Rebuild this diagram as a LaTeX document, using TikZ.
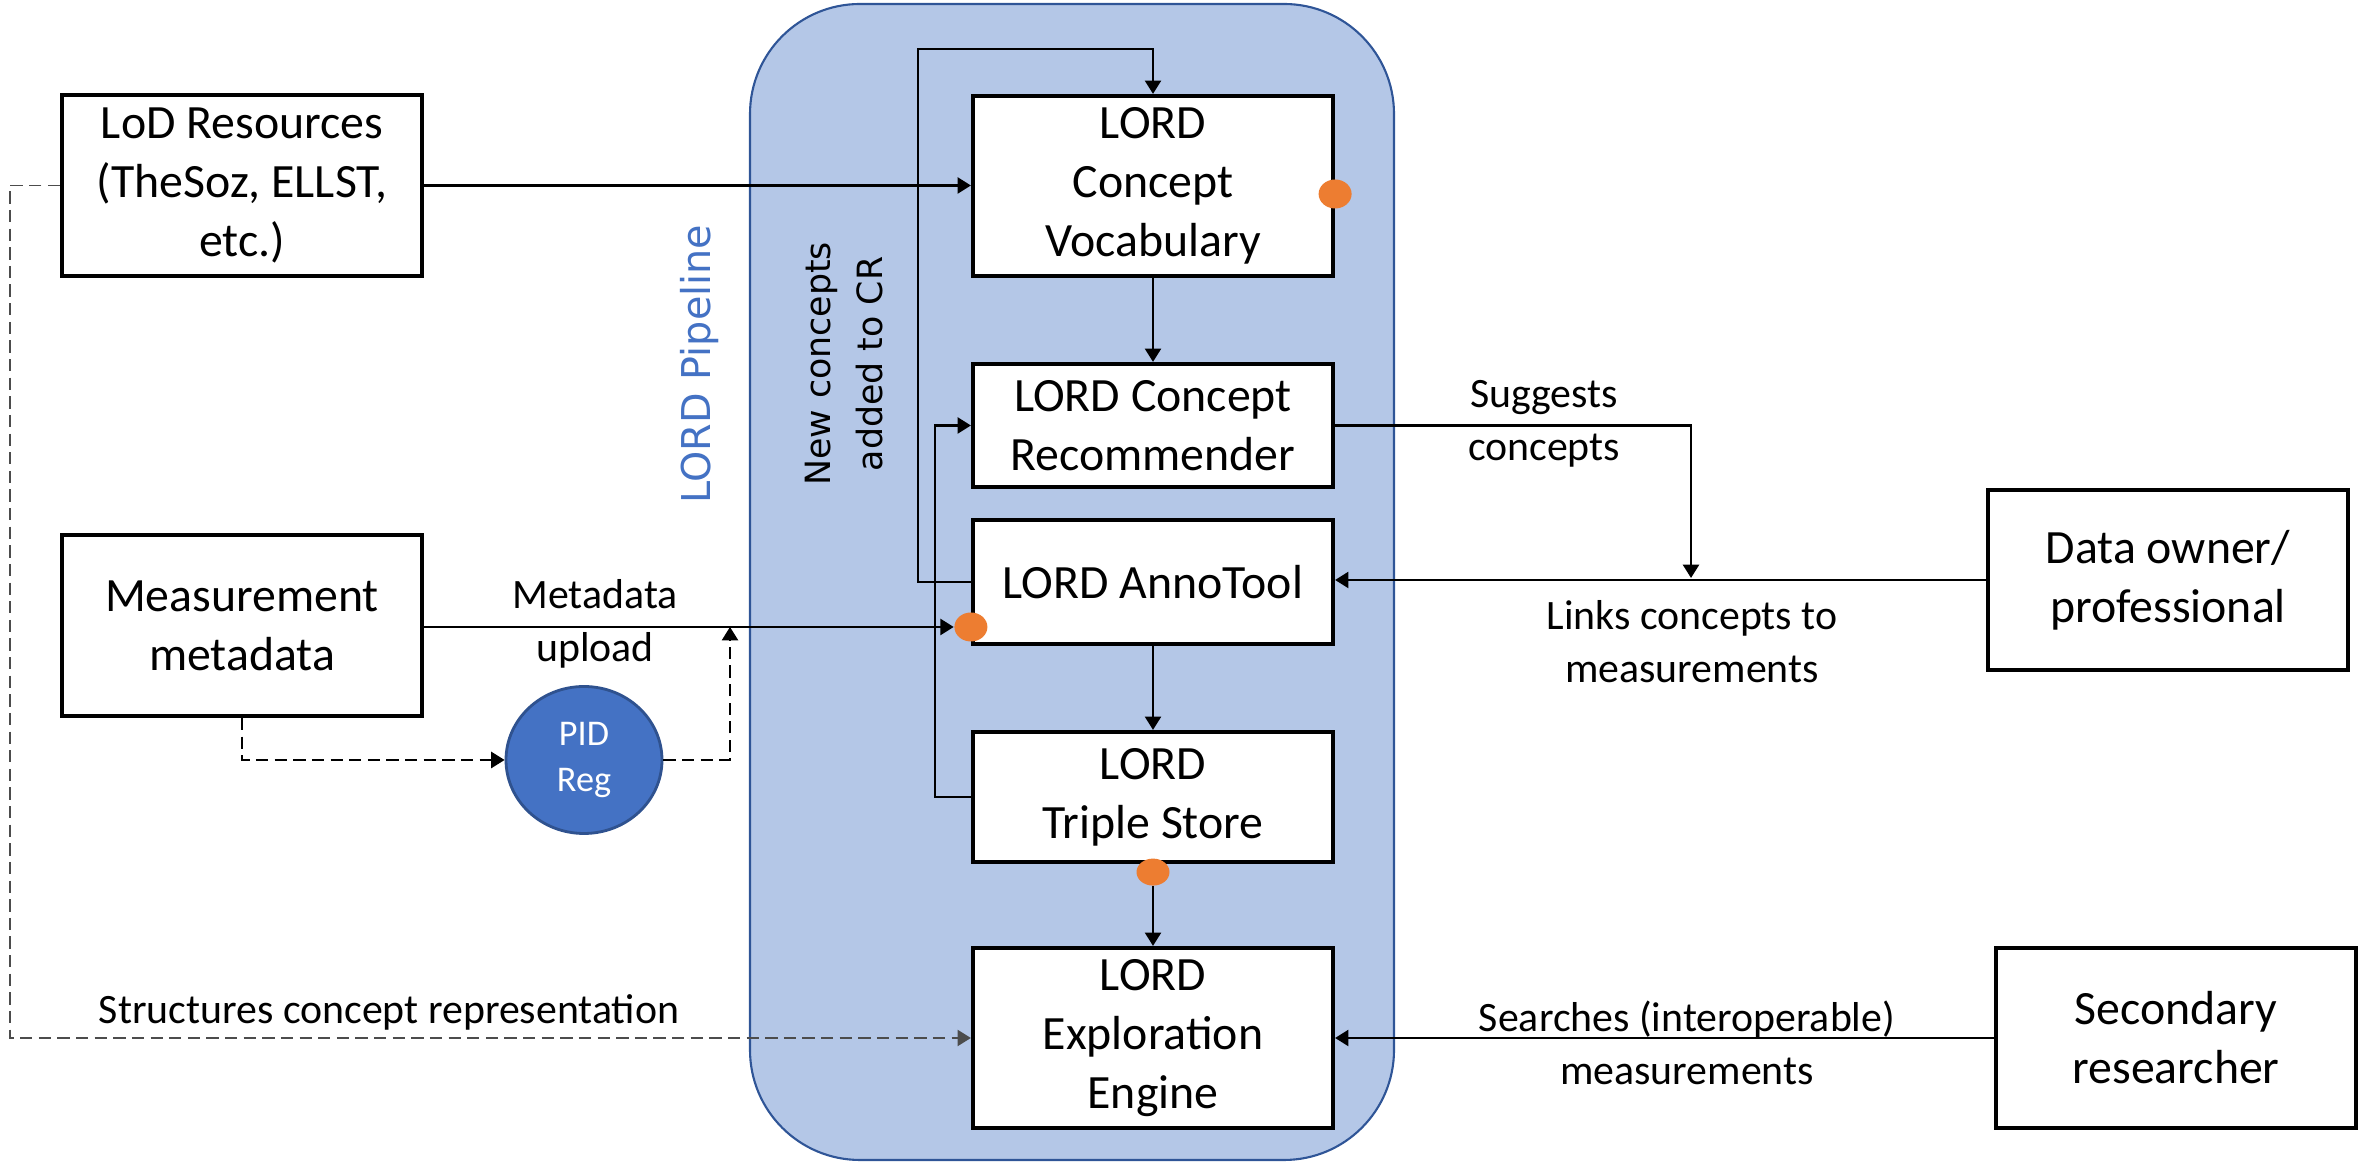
\documentclass[tikz,border=0pt]{standalone}
\usepackage{fontspec}
\setmainfont{Carlito}
\newfontfamily\dejavu{DejaVu Sans}
\usepackage{xcolor}
\usepackage{tikz}
\usetikzlibrary{positioning,arrows.meta,calc,shapes.geometric}
\definecolor{pipefill}{HTML}{B4C7E7}
\definecolor{pipedraw}{HTML}{2F5597}
\definecolor{pidblue}{HTML}{4472C4}
\definecolor{piddraw}{HTML}{2F528F}
\definecolor{dotorange}{HTML}{ED7D31}

\begin{document}
\begin{tikzpicture}[every node/.style={align=center},
  box/.style={draw, line width=1.2pt, fill=white, minimum width=3.6cm, inner sep=2pt, font=\fontsize{13.6}{16.8}\selectfont},
  lbl/.style={font=\fontsize{11.9}{15}\selectfont},
  dot/.style={ellipse, fill=dotorange, minimum width=0.33cm, minimum height=0.29cm, inner sep=0pt},
  arr/.style={-{Triangle[length=3.8pt, width=4.6pt]}, line width=0.6pt},
  dsh/.style={dash pattern=on 3.5pt off 1.8pt, line width=0.5pt}]
\useasboundingbox (0,0) rectangle (23.64,11.64);
\node[draw=pipedraw, line width=0.6pt, fill=pipefill, rounded corners=1.1cm, minimum width=6.44cm, minimum height=11.56cm] (pipe) at (10.72,5.82) {};
\node[rotate=90, text=pidblue, font=\dejavu\fontsize{11.3}{14}\selectfont] (pltitle) at (7.00,8.00) {LORD Pipeline};
\node[rotate=90, font=\dejavu\fontsize{9.9}{14.8}\selectfont] (newc) at (8.44,8.00) {New concepts\\added to CR};
\node[box, minimum height=1.81cm] (lod) at (2.42,9.785) {LoD Resources\\(TheSoz, ELLST,\\etc.)};
\node[box, minimum height=1.81cm] (meas) at (2.42,5.385) {Measurement\\metadata};
\node[ellipse, draw=piddraw, line width=0.8pt, fill=pidblue, text=white, minimum width=1.56cm, minimum height=1.47cm, inner sep=0pt, font=\fontsize{10.3}{13.3}\selectfont] (pid) at (5.84,4.04) {PID\\Reg};
\node[box, minimum height=1.80cm] (vocab) at (11.53,9.78) {LORD\\Concept\\Vocabulary};
\node[box, minimum height=1.23cm] (rec) at (11.53,7.385) {LORD Concept\\Recommender};
\node[box, minimum height=1.24cm] (anno) at (11.53,5.82) {LORD AnnoTool};
\node[box, minimum height=1.30cm] (triple) at (11.53,3.67) {LORD\\Triple Store};
\node[box, minimum height=1.80cm] (explo) at (11.53,1.26) {LORD\\Exploration\\Engine};
\node[box, minimum height=1.80cm] (owner) at (21.68,5.84) {Data owner/\\professional};
\node[box, minimum height=1.80cm] (second) at (21.76,1.26) {Secondary\\researcher};
\node[dot] (d1) at ([yshift=-0.08cm]vocab.east) {};
\node[dot] (d2) at ([yshift=-0.45cm]anno.west) {};
\node[dot, minimum height=0.27cm] (d3) at ([yshift=-0.08cm]triple.south) {};
\coordinate (mdup) at (7.30,5.37);
\coordinate (sugg) at (16.91,5.86);
\draw[arr] (lod.east) -- (lod.east -| vocab.west);
\draw[arr, dsh, black!70] (lod.west) -- ++(-0.5,0) |- (explo.west);
\draw[arr] (meas.east |- d2) -- (d2.west);
\draw[arr, dsh] (meas.south) |- (pid.west);
\draw[arr, dsh] (pid.east) -| (mdup);
\draw[arr] (vocab.south) -- (rec.north);
\draw[arr] (rec.east) -| (sugg);
\draw[arr] (owner.west) -- (owner.west -| anno.east);
\draw[arr] (anno.west) -- ++(-0.53,0) |- ([yshift=0.45cm]vocab.north) -- (vocab.north);
\draw[arr] (triple.west) -- ++(-0.36,0) |- (rec.west);
\draw[arr] (anno.south) -- (triple.north);
\draw[arr] (d3.south) -- (d3.south |- explo.north);
\draw[arr] (second.west) -- (second.west -| explo.east);
\node[lbl] (mdlbl) at (5.95,5.40) {Metadata\\upload};
\node[lbl] (sglbl) at (15.44,7.40) {Suggests\\concepts};
\node[lbl] (lklbl) at (16.92,5.22) {Links concepts to\\measurements};
\node[lbl] (srlbl) at (16.87,1.21) {Searches (interoperable)\\measurements};
\node[lbl] (stlbl) at (3.89,1.52) {Structures concept representation};
\end{tikzpicture}
\end{document}
